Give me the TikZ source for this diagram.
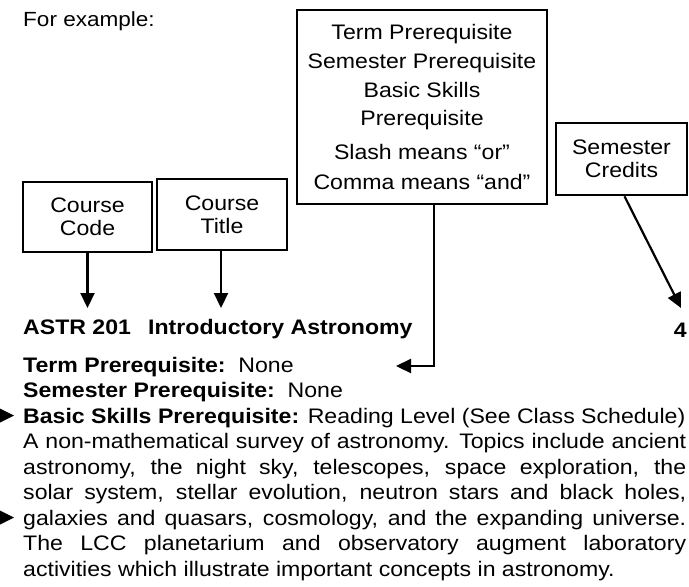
\documentclass[tikz,border=0pt]{standalone}
\usepackage{fontspec}
\setmainfont{Liberation Sans}[FakeStretch=1.1]
\usetikzlibrary{arrows.meta}
\tikzset{
  box/.style={draw, line width=2.6pt, inner sep=0pt, align=center},
  arr/.style={line width=2.2pt, -{Triangle[length=15pt,width=14pt]}},
  body/.style={anchor=base west, inner sep=0pt, font=\fontsize{21pt}{25pt}\selectfont},
  boxfont/.style={font=\fontsize{21pt}{23pt}\selectfont},
}
\begin{document}
\begin{tikzpicture}[x=1pt,y=-1pt]
\useasboundingbox (0,0) rectangle (689,587);
% heading
\node[anchor=west, inner sep=0pt, font=\fontsize{20.5pt}{23pt}\selectfont] (forex) at (23,21) {For example:};
% boxes
\node[box, boxfont, minimum width=250pt, minimum height=194pt] (prereq) at (422,107)
  {Term Prerequisite\\[6pt]Semester Prerequisite\\[6pt]Basic Skills\\[5pt]Prerequisite\\[11pt]Slash means “or”\\[7pt]Comma means “and”};
\node[box, boxfont, minimum width=129pt, minimum height=70pt] (code) at (87.5,217) {Course\\Code};
\node[box, boxfont, minimum width=130pt, minimum height=71pt] (title) at (222,214.5) {Course\\Title};
\node[box, boxfont, minimum width=131pt, minimum height=72pt] (credits) at (621.5,159) {Semester\\Credits};
% course entry
\node[body, font=\fontsize{21pt}{25pt}\selectfont\bfseries] (acode) at (23,334.5) {ASTR 201};
\node[body, font=\fontsize{21pt}{25pt}\selectfont\bfseries] (atitle) at (148,334.5) {Introductory Astronomy};
\node[body, font=\fontsize{21pt}{25pt}\selectfont\bfseries, anchor=base east] (acred) at (687,337.5) {4};
\node[body] (l1) at (23,372) {\textbf{Term Prerequisite:}\ \ None};
\node[body] (l2) at (23,397.5) {\textbf{Semester Prerequisite:}\ \ None};
\node[body] (l3) at (23,423) {\textbf{Basic Skills Prerequisite:} Reading Level (See Class Schedule)};
\node[body] (l4) at (23,448.5) {\makebox[663pt][s]{A non-mathematical survey of astronomy. Topics include ancient}};
\node[body] (l5) at (23,474) {\makebox[663pt][s]{astronomy, the night sky, telescopes, space exploration, the}};
\node[body] (l6) at (23,499.5) {\makebox[663pt][s]{solar system, stellar evolution, neutron stars and black holes,}};
\node[body] (l7) at (23,525) {\makebox[663pt][s]{galaxies and quasars, cosmology, and the expanding universe.}};
\node[body] (l8) at (23,550.5) {\makebox[663pt][s]{The LCC planetarium and observatory augment laboratory}};
\node[body] (l9) at (23,576) {activities which illustrate important concepts in astronomy.};
% connector ends
\coordinate (codetip) at (87.5,308);
\coordinate (titletip) at (221,308);
\coordinate (prtip) at (396,366);
\coordinate (credtip) at (681,308);
\draw[arr] (code.south) -- (codetip);
\draw[arr] (title.south -| titletip) -- (titletip);
\draw[arr] (prereq.south -| 434,0) |- (prtip);
\draw[arr] (credits.south) ++(3,0) -- (credtip);
% margin markers
\fill (0,408.5) -- (14,415.5) -- (0,422.5) -- cycle;
\fill (0,510.5) -- (14,517.5) -- (0,524.5) -- cycle;
\end{tikzpicture}
\end{document}
